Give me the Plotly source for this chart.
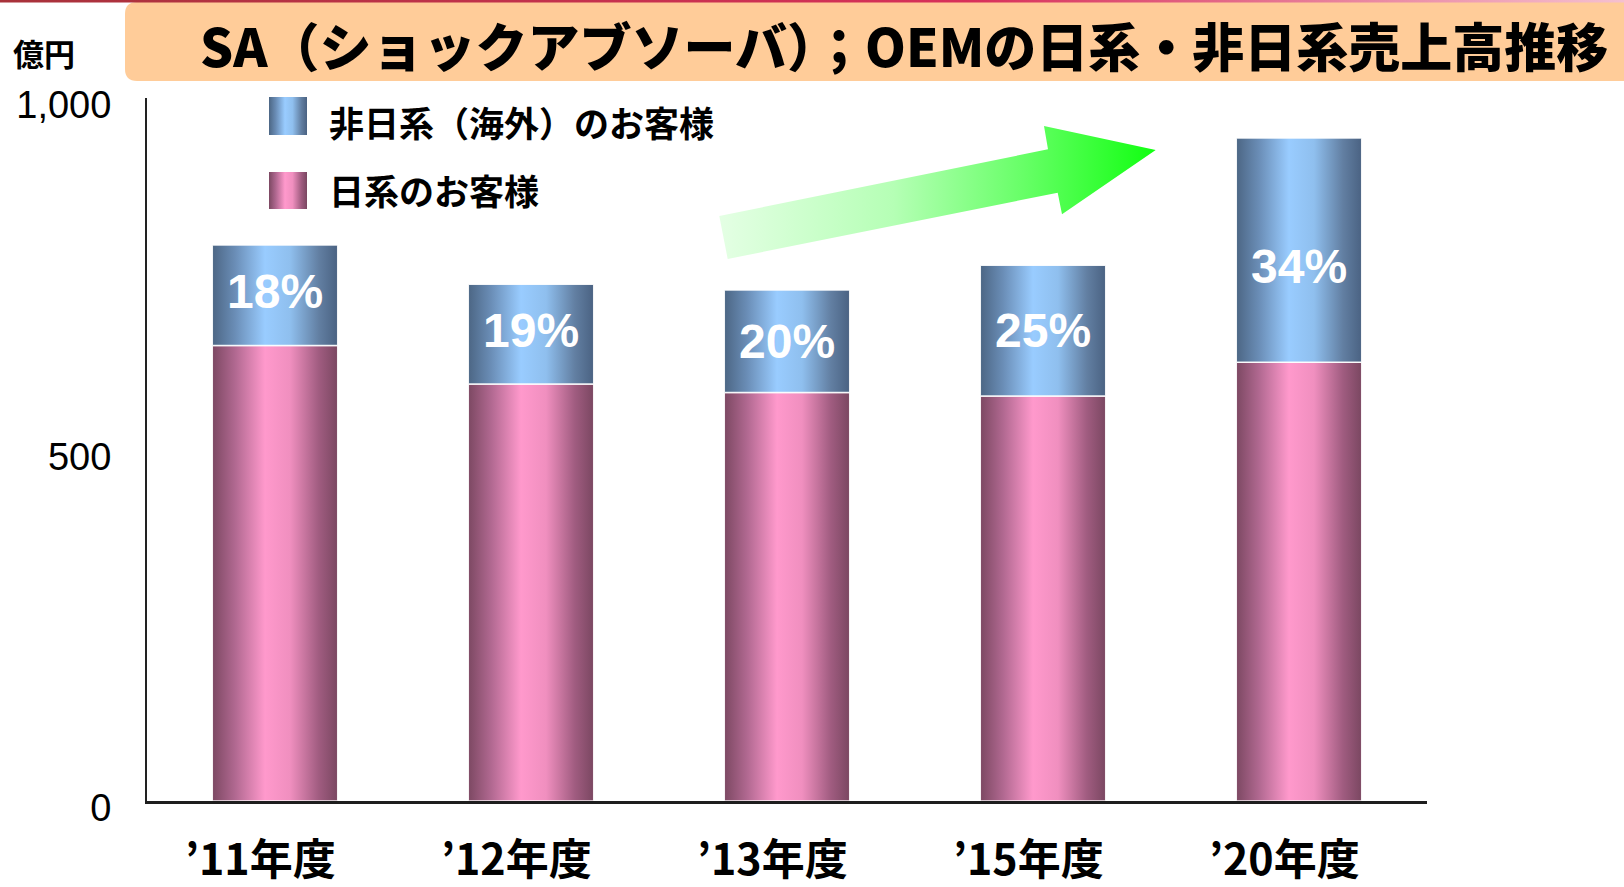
import plotly.graph_objects as go

# data (億円)
categories = ["’11年度", "’12年度", "’13年度", "’15年度", "’20年度"]
japan = [648, 593, 581, 576, 624]
overseas = [143, 142, 146, 186, 319]
shares = [18, 19, 20, 25, 34]
series_names = ["非日系（海外）のお客様", "日系のお客様"]
y_ticks = [0, 500, 1000]

W, H = 1624, 887
JP_FONT = "Noto Sans CJK JP"

BLUE = [[0, '#4c6684'], [0.18, '#6a8db6'], [0.42, '#99ccff'], [0.62, '#8fbfee'],
        [0.85, '#627fa2'], [1, '#4a6282']]
PINK = [[0, '#7c4862'], [0.18, '#b06890'], [0.42, '#ff99cc'], [0.62, '#f08fbf'],
        [0.85, '#a05c80'], [1, '#7a4761']]
GREEN = [[0, '#e4ffe4'], [0.4, '#b5ffb5'], [0.7, '#66ff66'], [1, '#11ff11']]
RED_LINE = [[0, '#a8323a'], [0.6, '#d8305a'], [1, '#f5c0d0']]

bar_w = 0.49


def rect(x0, x1, y0, y1):
    return [x0, x1, x1, x0, x0], [y0, y0, y1, y1, y0]


def grad_poly(xs, ys, scale, axes='xy', line=None):
    return go.Scatter(
        x=xs, y=ys, fill='toself', mode='lines',
        fillgradient=dict(type='horizontal', colorscale=scale),
        line=line or dict(width=0),
        xaxis='x' if axes == 'xy' else 'x2',
        yaxis='y' if axes == 'xy' else 'y2',
        showlegend=False, hoverinfo='skip'
    )


fig = go.Figure()

# stacked bars with a cylinder-like shading
edge = dict(color='rgba(255,255,255,0.9)', width=1.5)
for i in range(len(categories)):
    x0, x1 = i - bar_w / 2, i + bar_w / 2
    top = japan[i] + overseas[i]
    xs, ys = rect(x0, x1, 0, japan[i])
    fig.add_trace(grad_poly(xs, ys, PINK, line=edge))
    xs, ys = rect(x0, x1, japan[i], top)
    fig.add_trace(grad_poly(xs, ys, BLUE, line=edge))

# decoration on a pixel overlay: top red rule, arrow, legend swatches
xs, ys = rect(0, W, 0, 2.5)
fig.add_trace(grad_poly(xs, ys, RED_LINE, axes='px'))

arrow_x = [727.7, 719.3, 1048, 1044, 1155.7, 1062, 1057.7, 727.7]
arrow_y = [259, 216, 149.3, 126, 150, 214.3, 192.7, 259]
fig.add_trace(grad_poly(arrow_x, arrow_y, GREEN, axes='px'))

xs, ys = rect(269, 307, 97, 135)
fig.add_trace(grad_poly(xs, ys, BLUE, axes='px'))
xs, ys = rect(269, 307, 172, 209)
fig.add_trace(grad_poly(xs, ys, PINK, axes='px'))

annotations = []
# share labels inside the overseas segment
for i in range(len(categories)):
    annotations.append(dict(
        x=i, y=japan[i] + overseas[i] / 2, xref='x', yref='y',
        text=f"{shares[i]}%", showarrow=False,
        yshift=-16 if i == 4 else (4 if i < 2 else 0),
        font=dict(family="Liberation Sans", size=48, color='white', weight='bold')
    ))

# category labels under the bars
for i, c in enumerate(categories):
    annotations.append(dict(
        x=i + bar_w / 2, y=0, xref='x', yref='y', xanchor='right', yanchor='middle',
        yshift=-55, text=c, showarrow=False,
        font=dict(family=JP_FONT, size=43, color='black', weight='bold')
    ))

# legend text
for name, yy in zip(series_names, [121, 189]):
    annotations.append(dict(
        x=327, y=yy, xref='x2', yref='y2', xanchor='left', yanchor='middle',
        text=name, showarrow=False,
        font=dict(family=JP_FONT, size=35, color='black', weight='bold')
    ))

annotations.append(dict(
    x=904, y=44, xref='x2', yref='y2', xanchor='center', yanchor='middle',
    text="SA（ショックアブソーバ）；OEMの日系・非日系売上高推移", showarrow=False,
    font=dict(family=JP_FONT, size=52, color='black', weight=900)
))
annotations.append(dict(
    x=43.5, y=52, xref='x2', yref='y2', xanchor='center', yanchor='middle',
    text="億円", showarrow=False,
    font=dict(family=JP_FONT, size=31, color='black', weight='bold')
))

fig.update_layout(
    width=W, height=H,
    margin=dict(l=0, r=0, t=0, b=0, pad=0, autoexpand=False),
    paper_bgcolor='white',
    plot_bgcolor='rgba(0,0,0,0)',
    showlegend=False,
    xaxis=dict(
        domain=[147 / W, 1427 / W], range=[-0.5, 4.5], anchor='y', automargin=False,
        showticklabels=False, ticks='', showgrid=False, zeroline=False,
        showline=True, linecolor='#1e1e1e', linewidth=2.5, fixedrange=True
    ),
    yaxis=dict(
        domain=[(H - 801) / H, (H - 98) / H], range=[0, 1000], anchor='x', automargin=False,
        tickvals=y_ticks, tickformat=',', ticks='', showgrid=False, zeroline=False,
        showline=True, linecolor='#222222', linewidth=2,
        ticklabelstandoff=26, ticklabelshift=7,
        tickfont=dict(family="Liberation Sans", size=38, color='black'),
        fixedrange=True
    ),
    xaxis2=dict(domain=[0, 1], range=[0, W], anchor='y2', visible=False,
                automargin=False, fixedrange=True),
    yaxis2=dict(domain=[0, 1], range=[H, 0], anchor='x2', visible=False,
                automargin=False, fixedrange=True),
    shapes=[dict(
        type='path', xref='x2', yref='y2', layer='below',
        path="M 1640,2 L 137,2 Q 125,2 125,14 L 125,69 Q 125,81 137,81 L 1640,81 Z",
        fillcolor='#ffcc99', line=dict(width=0)
    )],
    annotations=annotations
)

# page body margin would push the figure 8px off the corner
fig.write_html("out.html", config={'displayModeBar': False},
               post_script="document.body.style.margin='0';")
